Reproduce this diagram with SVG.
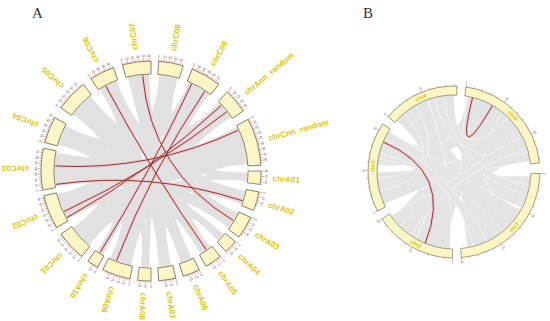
<svg xmlns="http://www.w3.org/2000/svg" width="550" height="321" viewBox="0 0 550 321">
<style>
.box{fill:#fcf5c6;stroke:#5f5a3c;stroke-width:.7}
.tk{stroke:#c4545e;stroke-width:.5}
.tl{font-family:"Liberation Sans",Arial,sans-serif;font-size:3.2px;fill:#505050;text-anchor:middle}
.lab{font-family:"Liberation Sans",Arial,sans-serif;font-size:8px;font-weight:bold;fill:#e0c400}
.rib{fill:#e1e1e1}
.halo{fill:none;stroke:#f9c0cf;stroke-width:3;opacity:.6}
.lnk{fill:none;stroke:#8e2a1e;stroke-width:.95}
.bbox{fill:#fcf5c6;stroke:#6a6648;stroke-width:.6}
.btk{stroke:#6a6648;stroke-width:.4}
.btl{font-family:"Liberation Sans",Arial,sans-serif;font-size:3px;fill:#555;text-anchor:middle}
.blab{font-family:"Liberation Sans",Arial,sans-serif;font-size:5.5px;font-weight:bold;fill:#e0c400;text-anchor:middle}
.brib{fill:#e4e4e4;stroke:#fff;stroke-width:.5}
.pl{font-family:"Liberation Serif","Times New Roman",serif;font-size:15px;fill:#333}
</style>
<defs>
<path id="w6" d="M151,61A110,110 0 0 1 162.50,61.60L161.14,74.53A97,97 0 0 0 151,74Z"/>
<path id="w7" d="M151,61A110,110 0 0 1 164.41,61.82L162.82,74.73A97,97 0 0 0 151,74Z"/>
<path id="w9" d="M151,61A110,110 0 0 1 168.20,62.35L166.17,75.19A97,97 0 0 0 151,74Z"/>
<path id="w10" d="M151,61A110,110 0 0 1 170.10,62.67L167.84,75.47A97,97 0 0 0 151,74Z"/>
<path id="w12" d="M151,61A110,110 0 0 1 173.87,63.41L171.17,76.12A97,97 0 0 0 151,74Z"/>
<path id="w13" d="M151,61A110,110 0 0 1 175.75,63.82L172.83,76.48A97,97 0 0 0 151,74Z"/>
<path id="w14" d="M151,61A110,110 0 0 1 177.61,64.27L174.46,76.88A97,97 0 0 0 151,74Z"/>
<path id="w15" d="M151,61A110,110 0 0 1 179.47,64.75L176.10,77.31A97,97 0 0 0 151,74Z"/>
<path id="w16" d="M151,61A110,110 0 0 1 181.32,65.26L177.73,77.75A97,97 0 0 0 151,74Z"/>
<path id="w17" d="M151,61A110,110 0 0 1 183.16,65.81L179.36,78.24A97,97 0 0 0 151,74Z"/>
<path id="w18" d="M151,61A110,110 0 0 1 184.99,66.38L180.97,78.74A97,97 0 0 0 151,74Z"/>
<path id="w22" d="M151,61A110,110 0 0 1 192.21,69.01L187.34,81.06A97,97 0 0 0 151,74Z"/>
<path id="w25" d="M151,61A110,110 0 0 1 197.49,71.31L191.99,83.09A97,97 0 0 0 151,74Z"/>
<line id="tM" x1="151" y1="61" x2="151" y2="57.5"/>
<g id="tp"><use href="#tM"/><line x1="151" y1="61" x2="151" y2="59" transform="rotate(1.4 151 171)"/></g>
<path id="bw84" d="M454,86A86,86 0 0 1 539.53,163.01L530.58,163.95A77,77 0 0 0 454,95Z"/>
<path id="bw56" d="M454,86A86,86 0 0 1 525.29,123.91L517.83,128.94A77,77 0 0 0 454,95Z"/>
<path id="bw61" d="M454,86A86,86 0 0 1 529.22,130.31L521.34,134.67A77,77 0 0 0 454,95Z"/>
<path id="bw52" d="M454,86A86,86 0 0 1 521.77,119.05L514.68,124.59A77,77 0 0 0 454,95Z"/>
<path id="bw76" d="M454,86A86,86 0 0 1 537.45,151.20L528.71,153.37A77,77 0 0 0 454,95Z"/>
<line id="bM" x1="454" y1="86" x2="454" y2="83"/>
<line id="bm" x1="454" y1="86" x2="454" y2="84.3"/>
<g id="bd"><use href="#bM"/><use href="#bm" transform="rotate(5.6 454 172)"/><use href="#bm" transform="rotate(11.2 454 172)"/><use href="#bm" transform="rotate(16.8 454 172)"/><use href="#bm" transform="rotate(22.4 454 172)"/></g>
</defs>
<rect width="550" height="321" fill="#fff"/>
<text class="pl" x="32" y="18">A</text>
<text class="pl" x="363" y="18">B</text>

<g id="connectors-A">
<g id="ribbons-A" class="rib">
<path d="M246.98,172.68A96,96 0 0 1 246.47,181.03Q151,171 89.29,244.54A96,96 0 0 1 79.66,235.23Q151,171 246.98,172.68Z"/>
<path d="M244.90,190.96A96,96 0 0 1 241.21,203.83Q151,171 67.86,219.00A96,96 0 0 1 61.37,205.41Q151,171 244.90,190.96Z"/>
<path d="M237.28,213.09A96,96 0 0 1 228.66,227.43Q151,171 55.93,184.36A96,96 0 0 1 55.23,164.30Q151,171 237.28,213.09Z"/>
<path d="M223.45,233.99A96,96 0 0 1 217.69,240.05Q151,171 58.72,144.54A96,96 0 0 1 61.99,135.04Q151,171 223.45,233.99Z"/>
<path d="M210.11,246.65A96,96 0 0 1 200.44,253.29Q151,171 62.63,133.49A96,96 0 0 1 66.24,125.93Q151,171 210.11,246.65Z"/>
<path d="M191.57,258.00A96,96 0 0 1 180.66,262.31Q151,171 73.34,114.57A96,96 0 0 1 81.95,104.31Q151,171 191.57,258.00Z"/>
<path d="M170.96,264.90A96,96 0 0 1 159.37,266.64Q151,171 100.13,89.59A96,96 0 0 1 115.04,81.99Q151,171 170.96,264.90Z"/>
<path d="M159.37,75.36A96,96 0 0 1 170.96,77.10Q151,171 149.32,266.98A96,96 0 0 1 140.97,266.47Q151,171 159.37,75.36Z"/>
<path d="M188.51,82.63A96,96 0 0 1 204.68,91.42Q151,171 131.04,264.90A96,96 0 0 1 110.43,258.00Q151,171 188.51,82.63Z"/>
<path d="M206.07,92.36A96,96 0 0 1 208.77,94.33Q151,171 103.00,254.14A96,96 0 0 1 97.32,250.58Q151,171 206.07,92.36Z"/>
<path d="M218.88,103.12A96,96 0 0 1 230.58,117.32Q151,171 127.78,77.85A96,96 0 0 1 147.65,75.06Q151,171 218.88,103.12Z"/>
<path d="M236.54,127.42A96,96 0 0 1 242.80,142.93Q151,171 60.79,203.83A96,96 0 0 1 57.85,194.22Q151,171 236.54,127.42Z"/>
<path d="M243.28,144.54A96,96 0 0 1 246.77,164.30Q151,171 55.36,162.63A96,96 0 0 1 56.77,152.68Q151,171 243.28,144.54Z"/>
<path d="M78.55,233.99A96,96 0 0 1 73.34,227.43Q151,171 83.12,103.12A96,96 0 0 1 90.59,96.40Q151,171 78.55,233.99Z"/>
<path d="M191.57,258.00A96,96 0 0 1 180.66,262.31Q151,171 127.78,77.85A96,96 0 0 1 149.32,75.02Q151,171 191.57,258.00Z"/>
<path d="M159.37,75.36A96,96 0 0 1 177.46,78.72Q151,171 67.86,219.00A96,96 0 0 1 57.85,194.22Q151,171 159.37,75.36Z"/>
<path d="M188.51,82.63A96,96 0 0 1 208.77,94.33Q151,171 58.72,144.54A96,96 0 0 1 66.24,125.93Q151,171 188.51,82.63Z"/>
<path d="M218.88,103.12A96,96 0 0 1 230.58,117.32Q151,171 131.04,264.90A96,96 0 0 1 110.43,258.00Q151,171 218.88,103.12Z"/>
<path d="M236.54,127.42A96,96 0 0 1 246.77,164.30Q151,171 89.29,244.54A96,96 0 0 1 73.34,227.43Q151,171 236.54,127.42Z"/>
<path d="M246.98,172.68A96,96 0 0 1 246.47,181.03Q151,171 73.34,114.57A96,96 0 0 1 90.59,96.40Q151,171 246.98,172.68Z"/>
<path d="M244.90,190.96A96,96 0 0 1 241.21,203.83Q151,171 100.13,89.59A96,96 0 0 1 116.59,81.37Q151,171 244.90,190.96Z"/>
<path d="M159.37,75.36A96,96 0 0 1 177.46,78.72Q151,171 237.28,213.09A96,96 0 0 1 228.66,227.43Q151,171 159.37,75.36Z"/>
<path d="M223.45,233.99A96,96 0 0 1 217.69,240.05Q151,171 56.18,186.01A96,96 0 0 1 56.77,152.68Q151,171 223.45,233.99Z"/>
<path d="M236.54,127.42A96,96 0 0 1 246.77,164.30Q151,171 210.11,246.65A96,96 0 0 1 200.44,253.29Q151,171 236.54,127.42Z"/>
<path d="M188.51,82.63A96,96 0 0 1 208.77,94.33Q151,171 170.96,264.90A96,96 0 0 1 159.37,266.64Q151,171 188.51,82.63Z"/>
<path d="M149.32,266.98A96,96 0 0 1 140.97,266.47Q151,171 58.72,144.54A96,96 0 0 1 66.24,125.93Q151,171 149.32,266.98Z"/>
<path d="M103.00,254.14A96,96 0 0 1 97.32,250.58Q151,171 100.13,89.59A96,96 0 0 1 116.59,81.37Q151,171 103.00,254.14Z"/>
<path d="M218.88,103.12A96,96 0 0 1 230.58,117.32Q151,171 89.29,244.54A96,96 0 0 1 73.34,227.43Q151,171 218.88,103.12Z"/>
<path d="M131.04,264.90A96,96 0 0 1 110.43,258.00Q151,171 73.34,114.57A96,96 0 0 1 90.59,96.40Q151,171 131.04,264.90Z"/>
</g>
<g id="halos-A" class="halo">
<path d="M105.93,86.24Q151,171 206.07,249.64"/>
<path d="M142.63,75.36Q151,171 233.29,220.44"/>
<path d="M191.57,84.00Q151,171 100.13,252.41"/>
<path d="M204.68,91.42Q151,171 116.59,260.63"/>
<path d="M221.21,105.53Q151,171 67.04,217.54"/>
<path d="M226.65,111.89Q151,171 64.00,211.57"/>
<path d="M238.00,130.43Q151,171 55.13,165.98"/>
<path d="M55.93,184.36Q151,171 242.31,200.66"/>
</g>
<g id="links-A" class="lnk">
<path d="M105.93,86.24Q151,171 206.07,249.64"/>
<path d="M142.63,75.36Q151,171 233.29,220.44"/>
<path d="M191.57,84.00Q151,171 100.13,252.41"/>
<path d="M204.68,91.42Q151,171 116.59,260.63"/>
<path d="M221.21,105.53Q151,171 67.04,217.54"/>
<path d="M226.65,111.89Q151,171 64.00,211.57"/>
<path d="M238.00,130.43Q151,171 55.13,165.98"/>
<path d="M55.93,184.36Q151,171 242.31,200.66"/>
</g>
</g>

<g id="chrC07">
<use href="#w15" class="box" transform="rotate(345 151 171)"/>
<g class="tk"><use href="#tp" transform="rotate(345 151 171)"/><use href="#tp" transform="rotate(347.8 151 171)"/><use href="#tp" transform="rotate(350.6 151 171)"/><use href="#tp" transform="rotate(353.4 151 171)"/><use href="#tp" transform="rotate(356.2 151 171)"/><use href="#tM" transform="rotate(359 151 171)"/></g>
<text class="tl" x="151" y="57" transform="rotate(345 151 171)">0</text><text class="tl" x="151" y="57" transform="rotate(347.8 151 171)">10</text><text class="tl" x="151" y="57" transform="rotate(350.6 151 171)">20</text><text class="tl" x="151" y="57" transform="rotate(353.4 151 171)">30</text><text class="tl" x="151" y="57" transform="rotate(356.2 151 171)">40</text><text class="tl" x="151" y="57" transform="rotate(359 151 171)">50</text>
<text class="lab" x="273" y="171" dy=".35em" transform="rotate(262.5 151 171)">chrC07</text>
</g>
<g id="chrC08">
<use href="#w13" class="box" transform="rotate(4 151 171)"/>
<g class="tk"><use href="#tp" transform="rotate(4 151 171)"/><use href="#tp" transform="rotate(6.8 151 171)"/><use href="#tp" transform="rotate(9.6 151 171)"/><use href="#tp" transform="rotate(12.4 151 171)"/><use href="#tp" transform="rotate(15.2 151 171)"/></g>
<text class="tl" x="151" y="57" transform="rotate(4 151 171)">0</text><text class="tl" x="151" y="57" transform="rotate(6.8 151 171)">10</text><text class="tl" x="151" y="57" transform="rotate(9.6 151 171)">20</text><text class="tl" x="151" y="57" transform="rotate(12.4 151 171)">30</text><text class="tl" x="151" y="57" transform="rotate(15.2 151 171)">40</text>
<text class="lab" x="273" y="171" dy=".35em" transform="rotate(-79.5 151 171)">chrC08</text>
</g>
<g id="chrC09">
<use href="#w16" class="box" transform="rotate(22 151 171)"/>
<g class="tk"><use href="#tp" transform="rotate(22 151 171)"/><use href="#tp" transform="rotate(24.8 151 171)"/><use href="#tp" transform="rotate(27.6 151 171)"/><use href="#tp" transform="rotate(30.4 151 171)"/><use href="#tp" transform="rotate(33.2 151 171)"/><use href="#tp" transform="rotate(36 151 171)"/></g>
<text class="tl" x="151" y="57" transform="rotate(22 151 171)">0</text><text class="tl" x="151" y="57" transform="rotate(24.8 151 171)">10</text><text class="tl" x="151" y="57" transform="rotate(27.6 151 171)">20</text><text class="tl" x="151" y="57" transform="rotate(30.4 151 171)">30</text><text class="tl" x="151" y="57" transform="rotate(33.2 151 171)">40</text><text class="tl" x="151" y="57" transform="rotate(36 151 171)">50</text>
<text class="lab" x="273" y="171" dy=".35em" transform="rotate(-60 151 171)">chrC09</text>
</g>
<g id="chrAnn_random">
<use href="#w13" class="box" transform="rotate(44 151 171)"/>
<g class="tk"><use href="#tp" transform="rotate(44 151 171)"/><use href="#tp" transform="rotate(46.8 151 171)"/><use href="#tp" transform="rotate(49.6 151 171)"/><use href="#tp" transform="rotate(52.4 151 171)"/><use href="#tp" transform="rotate(55.2 151 171)"/></g>
<text class="tl" x="151" y="57" transform="rotate(44 151 171)">0</text><text class="tl" x="151" y="57" transform="rotate(46.8 151 171)">10</text><text class="tl" x="151" y="57" transform="rotate(49.6 151 171)">20</text><text class="tl" x="151" y="57" transform="rotate(52.4 151 171)">30</text><text class="tl" x="151" y="57" transform="rotate(55.2 151 171)">40</text>
<text class="lab" x="273" y="171" dy=".35em" transform="rotate(-39.5 151 171)">chrAnn_random</text>
</g>
<g id="chrCnn_random">
<use href="#w25" class="box" transform="rotate(62 151 171)"/>
<g class="tk"><use href="#tp" transform="rotate(62 151 171)"/><use href="#tp" transform="rotate(64.8 151 171)"/><use href="#tp" transform="rotate(67.6 151 171)"/><use href="#tp" transform="rotate(70.4 151 171)"/><use href="#tp" transform="rotate(73.2 151 171)"/><use href="#tp" transform="rotate(76 151 171)"/><use href="#tp" transform="rotate(78.8 151 171)"/><use href="#tp" transform="rotate(81.6 151 171)"/><use href="#tp" transform="rotate(84.4 151 171)"/></g>
<text class="tl" x="151" y="57" transform="rotate(62 151 171)">0</text><text class="tl" x="151" y="57" transform="rotate(64.8 151 171)">10</text><text class="tl" x="151" y="57" transform="rotate(67.6 151 171)">20</text><text class="tl" x="151" y="57" transform="rotate(70.4 151 171)">30</text><text class="tl" x="151" y="57" transform="rotate(73.2 151 171)">40</text><text class="tl" x="151" y="57" transform="rotate(76 151 171)">50</text><text class="tl" x="151" y="57" transform="rotate(78.8 151 171)">60</text><text class="tl" x="151" y="57" transform="rotate(81.6 151 171)">70</text><text class="tl" x="151" y="57" transform="rotate(84.4 151 171)">80</text>
<text class="lab" x="273" y="171" dy=".35em" transform="rotate(-15.5 151 171)">chrCnn_random</text>
</g>
<g id="chrA01">
<use href="#w7" class="box" transform="rotate(90 151 171)"/>
<g class="tk"><use href="#tp" transform="rotate(90 151 171)"/><use href="#tp" transform="rotate(92.8 151 171)"/><use href="#tp" transform="rotate(95.6 151 171)"/></g>
<text class="tl" x="151" y="54.4" transform="rotate(90 151 171) rotate(180 151 54.4)">0</text><text class="tl" x="151" y="54.4" transform="rotate(92.8 151 171) rotate(180 151 54.4)">10</text><text class="tl" x="151" y="54.4" transform="rotate(95.6 151 171) rotate(180 151 54.4)">20</text>
<text class="lab" x="273" y="171" dy=".35em" transform="rotate(3.5 151 171)">chrA01</text>
</g>
<g id="chrA02">
<use href="#w10" class="box" transform="rotate(101 151 171)"/>
<g class="tk"><use href="#tp" transform="rotate(101 151 171)"/><use href="#tp" transform="rotate(103.8 151 171)"/><use href="#tp" transform="rotate(106.6 151 171)"/></g>
<text class="tl" x="151" y="54.4" transform="rotate(101 151 171) rotate(180 151 54.4)">0</text><text class="tl" x="151" y="54.4" transform="rotate(103.8 151 171) rotate(180 151 54.4)">10</text><text class="tl" x="151" y="54.4" transform="rotate(106.6 151 171) rotate(180 151 54.4)">20</text>
<text class="lab" x="273" y="171" dy=".35em" transform="rotate(16 151 171)">chrA02</text>
</g>
<g id="chrA03">
<use href="#w12" class="box" transform="rotate(115 151 171)"/>
<g class="tk"><use href="#tp" transform="rotate(115 151 171)"/><use href="#tp" transform="rotate(117.8 151 171)"/><use href="#tp" transform="rotate(120.6 151 171)"/><use href="#tp" transform="rotate(123.4 151 171)"/></g>
<text class="tl" x="151" y="54.4" transform="rotate(115 151 171) rotate(180 151 54.4)">0</text><text class="tl" x="151" y="54.4" transform="rotate(117.8 151 171) rotate(180 151 54.4)">10</text><text class="tl" x="151" y="54.4" transform="rotate(120.6 151 171) rotate(180 151 54.4)">20</text><text class="tl" x="151" y="54.4" transform="rotate(123.4 151 171) rotate(180 151 54.4)">30</text>
<text class="lab" x="273" y="171" dy=".35em" transform="rotate(31 151 171)">chrA03</text>
</g>
<g id="chrA04">
<use href="#w7" class="box" transform="rotate(130 151 171)"/>
<g class="tk"><use href="#tp" transform="rotate(130 151 171)"/><use href="#tp" transform="rotate(132.8 151 171)"/><use href="#tp" transform="rotate(135.6 151 171)"/></g>
<text class="tl" x="151" y="54.4" transform="rotate(130 151 171) rotate(180 151 54.4)">0</text><text class="tl" x="151" y="54.4" transform="rotate(132.8 151 171) rotate(180 151 54.4)">10</text><text class="tl" x="151" y="54.4" transform="rotate(135.6 151 171) rotate(180 151 54.4)">20</text>
<text class="lab" x="273" y="171" dy=".35em" transform="rotate(43.5 151 171)">chrA04</text>
</g>
<g id="chrA05">
<use href="#w9" class="box" transform="rotate(141 151 171)"/>
<g class="tk"><use href="#tp" transform="rotate(141 151 171)"/><use href="#tp" transform="rotate(143.8 151 171)"/><use href="#tp" transform="rotate(146.6 151 171)"/></g>
<text class="tl" x="151" y="54.4" transform="rotate(141 151 171) rotate(180 151 54.4)">0</text><text class="tl" x="151" y="54.4" transform="rotate(143.8 151 171) rotate(180 151 54.4)">10</text><text class="tl" x="151" y="54.4" transform="rotate(146.6 151 171) rotate(180 151 54.4)">20</text>
<text class="lab" x="273" y="171" dy=".35em" transform="rotate(55.5 151 171)">chrA05</text>
</g>
<g id="chrA06">
<use href="#w9" class="box" transform="rotate(154 151 171)"/>
<g class="tk"><use href="#tp" transform="rotate(154 151 171)"/><use href="#tp" transform="rotate(156.8 151 171)"/><use href="#tp" transform="rotate(159.6 151 171)"/></g>
<text class="tl" x="151" y="54.4" transform="rotate(154 151 171) rotate(180 151 54.4)">0</text><text class="tl" x="151" y="54.4" transform="rotate(156.8 151 171) rotate(180 151 54.4)">10</text><text class="tl" x="151" y="54.4" transform="rotate(159.6 151 171) rotate(180 151 54.4)">20</text>
<text class="lab" x="273" y="171" dy=".35em" transform="rotate(68.5 151 171)">chrA06</text>
</g>
<g id="chrA07">
<use href="#w9" class="box" transform="rotate(167 151 171)"/>
<g class="tk"><use href="#tp" transform="rotate(167 151 171)"/><use href="#tp" transform="rotate(169.8 151 171)"/><use href="#tp" transform="rotate(172.6 151 171)"/></g>
<text class="tl" x="151" y="54.4" transform="rotate(167 151 171) rotate(180 151 54.4)">0</text><text class="tl" x="151" y="54.4" transform="rotate(169.8 151 171) rotate(180 151 54.4)">10</text><text class="tl" x="151" y="54.4" transform="rotate(172.6 151 171) rotate(180 151 54.4)">20</text>
<text class="lab" x="273" y="171" dy=".35em" transform="rotate(81.5 151 171)">chrA07</text>
</g>
<g id="chrA08">
<use href="#w7" class="box" transform="rotate(180 151 171)"/>
<g class="tk"><use href="#tp" transform="rotate(180 151 171)"/><use href="#tp" transform="rotate(182.8 151 171)"/><use href="#tp" transform="rotate(185.6 151 171)"/></g>
<text class="tl" x="151" y="54.4" transform="rotate(180 151 171) rotate(180 151 54.4)">0</text><text class="tl" x="151" y="54.4" transform="rotate(182.8 151 171) rotate(180 151 54.4)">10</text><text class="tl" x="151" y="54.4" transform="rotate(185.6 151 171) rotate(180 151 54.4)">20</text>
<text class="lab" x="273" y="171" dy=".35em" transform="rotate(93.5 151 171)">chrA08</text>
</g>
<g id="chrA09">
<use href="#w15" class="box" transform="rotate(191 151 171)"/>
<g class="tk"><use href="#tp" transform="rotate(191 151 171)"/><use href="#tp" transform="rotate(193.8 151 171)"/><use href="#tp" transform="rotate(196.6 151 171)"/><use href="#tp" transform="rotate(199.4 151 171)"/><use href="#tp" transform="rotate(202.2 151 171)"/></g>
<text class="tl" x="151" y="54.4" transform="rotate(191 151 171) rotate(180 151 54.4)">0</text><text class="tl" x="151" y="54.4" transform="rotate(193.8 151 171) rotate(180 151 54.4)">10</text><text class="tl" x="151" y="54.4" transform="rotate(196.6 151 171) rotate(180 151 54.4)">20</text><text class="tl" x="151" y="54.4" transform="rotate(199.4 151 171) rotate(180 151 54.4)">30</text><text class="tl" x="151" y="54.4" transform="rotate(202.2 151 171) rotate(180 151 54.4)">40</text>
<text class="lab" x="273" y="171" dy=".35em" transform="rotate(108.5 151 171)">chrA09</text>
</g>
<g id="chrA10">
<use href="#w6" class="box" transform="rotate(209 151 171)"/>
<g class="tk"><use href="#tp" transform="rotate(209 151 171)"/><use href="#tp" transform="rotate(211.8 151 171)"/></g>
<text class="tl" x="151" y="54.4" transform="rotate(209 151 171) rotate(180 151 54.4)">0</text><text class="tl" x="151" y="54.4" transform="rotate(211.8 151 171) rotate(180 151 54.4)">10</text>
<text class="lab" x="273" y="171" dy=".35em" transform="rotate(122 151 171)">chrA10</text>
</g>
<g id="chrC01">
<use href="#w16" class="box" transform="rotate(219 151 171)"/>
<g class="tk"><use href="#tp" transform="rotate(219 151 171)"/><use href="#tp" transform="rotate(221.8 151 171)"/><use href="#tp" transform="rotate(224.6 151 171)"/><use href="#tp" transform="rotate(227.4 151 171)"/><use href="#tp" transform="rotate(230.2 151 171)"/><use href="#tp" transform="rotate(233 151 171)"/></g>
<text class="tl" x="151" y="54.4" transform="rotate(219 151 171) rotate(180 151 54.4)">0</text><text class="tl" x="151" y="54.4" transform="rotate(221.8 151 171) rotate(180 151 54.4)">10</text><text class="tl" x="151" y="54.4" transform="rotate(224.6 151 171) rotate(180 151 54.4)">20</text><text class="tl" x="151" y="54.4" transform="rotate(227.4 151 171) rotate(180 151 54.4)">30</text><text class="tl" x="151" y="54.4" transform="rotate(230.2 151 171) rotate(180 151 54.4)">40</text><text class="tl" x="151" y="54.4" transform="rotate(233 151 171) rotate(180 151 54.4)">50</text>
<text class="lab" x="273" y="171" dy=".35em" transform="rotate(137 151 171)">chrC01</text>
</g>
<g id="chrC02">
<use href="#w18" class="box" transform="rotate(239 151 171)"/>
<g class="tk"><use href="#tp" transform="rotate(239 151 171)"/><use href="#tp" transform="rotate(241.8 151 171)"/><use href="#tp" transform="rotate(244.6 151 171)"/><use href="#tp" transform="rotate(247.4 151 171)"/><use href="#tp" transform="rotate(250.2 151 171)"/><use href="#tp" transform="rotate(253 151 171)"/><use href="#tM" transform="rotate(255.8 151 171)"/></g>
<text class="tl" x="151" y="54.4" transform="rotate(239 151 171) rotate(180 151 54.4)">0</text><text class="tl" x="151" y="54.4" transform="rotate(241.8 151 171) rotate(180 151 54.4)">10</text><text class="tl" x="151" y="54.4" transform="rotate(244.6 151 171) rotate(180 151 54.4)">20</text><text class="tl" x="151" y="54.4" transform="rotate(247.4 151 171) rotate(180 151 54.4)">30</text><text class="tl" x="151" y="54.4" transform="rotate(250.2 151 171) rotate(180 151 54.4)">40</text><text class="tl" x="151" y="54.4" transform="rotate(253 151 171) rotate(180 151 54.4)">50</text><text class="tl" x="151" y="54.4" transform="rotate(255.8 151 171) rotate(180 151 54.4)">60</text>
<text class="lab" x="273" y="171" dy=".35em" transform="rotate(158 151 171)">chrC02</text>
</g>
<g id="chrC03">
<use href="#w22" class="box" transform="rotate(260 151 171)"/>
<g class="tk"><use href="#tp" transform="rotate(260 151 171)"/><use href="#tp" transform="rotate(262.8 151 171)"/><use href="#tp" transform="rotate(265.6 151 171)"/><use href="#tp" transform="rotate(268.4 151 171)"/><use href="#tp" transform="rotate(271.2 151 171)"/><use href="#tp" transform="rotate(274 151 171)"/><use href="#tp" transform="rotate(276.8 151 171)"/><use href="#tp" transform="rotate(279.6 151 171)"/></g>
<text class="tl" x="151" y="54.4" transform="rotate(260 151 171) rotate(180 151 54.4)">0</text><text class="tl" x="151" y="54.4" transform="rotate(262.8 151 171) rotate(180 151 54.4)">10</text><text class="tl" x="151" y="54.4" transform="rotate(265.6 151 171) rotate(180 151 54.4)">20</text><text class="tl" x="151" y="54.4" transform="rotate(268.4 151 171) rotate(180 151 54.4)">30</text><text class="tl" x="151" y="57" transform="rotate(271.2 151 171)">40</text><text class="tl" x="151" y="57" transform="rotate(274 151 171)">50</text><text class="tl" x="151" y="57" transform="rotate(276.8 151 171)">60</text><text class="tl" x="151" y="57" transform="rotate(279.6 151 171)">70</text>
<text class="lab" x="273" y="171" dy=".35em" transform="rotate(181 151 171)">chrC03</text>
</g>
<g id="chrC04">
<use href="#w14" class="box" transform="rotate(285 151 171)"/>
<g class="tk"><use href="#tp" transform="rotate(285 151 171)"/><use href="#tp" transform="rotate(287.8 151 171)"/><use href="#tp" transform="rotate(290.6 151 171)"/><use href="#tp" transform="rotate(293.4 151 171)"/><use href="#tp" transform="rotate(296.2 151 171)"/><use href="#tM" transform="rotate(299 151 171)"/></g>
<text class="tl" x="151" y="57" transform="rotate(285 151 171)">0</text><text class="tl" x="151" y="57" transform="rotate(287.8 151 171)">10</text><text class="tl" x="151" y="57" transform="rotate(290.6 151 171)">20</text><text class="tl" x="151" y="57" transform="rotate(293.4 151 171)">30</text><text class="tl" x="151" y="57" transform="rotate(296.2 151 171)">40</text><text class="tl" x="151" y="57" transform="rotate(299 151 171)">50</text>
<text class="lab" x="273" y="171" dy=".35em" transform="rotate(202 151 171)">chrC04</text>
</g>
<g id="chrC05">
<use href="#w17" class="box" transform="rotate(305 151 171)"/>
<g class="tk"><use href="#tp" transform="rotate(305 151 171)"/><use href="#tp" transform="rotate(307.8 151 171)"/><use href="#tp" transform="rotate(310.6 151 171)"/><use href="#tp" transform="rotate(313.4 151 171)"/><use href="#tp" transform="rotate(316.2 151 171)"/><use href="#tp" transform="rotate(319 151 171)"/></g>
<text class="tl" x="151" y="57" transform="rotate(305 151 171)">0</text><text class="tl" x="151" y="57" transform="rotate(307.8 151 171)">10</text><text class="tl" x="151" y="57" transform="rotate(310.6 151 171)">20</text><text class="tl" x="151" y="57" transform="rotate(313.4 151 171)">30</text><text class="tl" x="151" y="57" transform="rotate(316.2 151 171)">40</text><text class="tl" x="151" y="57" transform="rotate(319 151 171)">50</text>
<text class="lab" x="273" y="171" dy=".35em" transform="rotate(223.5 151 171)">chrC05</text>
</g>
<g id="chrC06">
<use href="#w13" class="box" transform="rotate(327 151 171)"/>
<g class="tk"><use href="#tp" transform="rotate(327 151 171)"/><use href="#tp" transform="rotate(329.8 151 171)"/><use href="#tp" transform="rotate(332.6 151 171)"/><use href="#tp" transform="rotate(335.4 151 171)"/><use href="#tp" transform="rotate(338.2 151 171)"/></g>
<text class="tl" x="151" y="57" transform="rotate(327 151 171)">0</text><text class="tl" x="151" y="57" transform="rotate(329.8 151 171)">10</text><text class="tl" x="151" y="57" transform="rotate(332.6 151 171)">20</text><text class="tl" x="151" y="57" transform="rotate(335.4 151 171)">30</text><text class="tl" x="151" y="57" transform="rotate(338.2 151 171)">40</text>
<text class="lab" x="273" y="171" dy=".35em" transform="rotate(243.5 151 171)">chrC06</text>
</g>

<g id="connectors-B">
<g id="ribbons-B" class="brib">
<path d="M530.71,178.71A77,77 0 0 1 523.79,204.54Q454,172 381.64,198.34A77,77 0 0 1 377,172Q454,172 530.71,178.71Z"/>
<path d="M520.68,210.5A77,77 0 0 1 498.17,235.07Q454,172 399.55,117.55A77,77 0 0 1 421.46,102.21Q454,172 520.68,210.5Z"/>
<path d="M517.07,127.83A77,77 0 0 1 529.83,158.63Q454,172 492.5,238.68A77,77 0 0 1 467.37,247.83Q454,172 517.07,127.83Z"/>
<path d="M498.17,108.93A77,77 0 0 1 512.99,122.51Q454,172 447.29,248.71A77,77 0 0 1 421.46,241.79Q454,172 498.17,108.93Z"/>
<path d="M415.5,238.68A77,77 0 0 1 390.93,216.17Q454,172 427.66,99.64A77,77 0 0 1 451.31,95.05Q454,172 415.5,238.68Z"/>
<path d="M467.37,96.17A77,77 0 0 1 492.5,105.32Q454,172 377.29,165.29A77,77 0 0 1 387.32,133.5Q454,172 467.37,96.17Z"/>
<path d="M530.89,176.03A77,77 0 0 1 521.99,208.15Q454,172 409.83,235.07A77,77 0 0 1 390.93,216.17Q454,172 530.89,176.03Z"/>
<path d="M520.68,133.5A77,77 0 0 1 530.25,161.28Q454,172 384.21,204.54A77,77 0 0 1 377,172Q454,172 520.68,133.5Z"/>
<path d="M449.97,248.89A77,77 0 0 1 415.5,238.68Q454,172 396.78,120.48A77,77 0 0 1 427.66,99.64Q454,172 449.97,248.89Z"/>
<path d="M467.37,96.17A77,77 0 0 1 503.49,113.01Q454,172 517.07,216.17A77,77 0 0 1 467.37,247.83Q454,172 467.37,96.17Z"/>
<path d="M520.68,210.5A77,77 0 0 1 503.49,230.99Q454,172 378.17,158.63A77,77 0 0 1 388.70,131.2Q454,172 520.68,210.5Z"/>
<path d="M508.45,117.55A77,77 0 0 1 528.38,152.07Q454,172 434.07,97.62A77,77 0 0 1 454,95Q454,172 508.45,117.55Z"/>
<path d="M529.83,185.37A77,77 0 0 1 527.23,195.79Q454,172 434.07,97.62A77,77 0 0 1 443.28,95.75Q454,172 529.83,185.37Z"/>
<path d="M521.99,135.85A77,77 0 0 1 527.23,148.21Q454,172 409.83,235.07A77,77 0 0 1 399.55,226.45Q454,172 521.99,135.85Z"/>
<path d="M379.62,191.93A77,77 0 0 1 377.29,178.71Q454,172 404.51,113.01A77,77 0 0 1 415.5,105.32Q454,172 379.62,191.93Z"/>
<path d="M486.54,241.79A77,77 0 0 1 473.93,246.38Q454,172 379.62,152.07A77,77 0 0 1 384.21,139.46Q454,172 486.54,241.79Z"/>
</g>
<g class="halo">
<path d="M472.63,97.29Q454,172 492.5,105.32"/>
<path d="M383.12,141.91Q454,172 425.16,243.39"/>
</g>
<g id="links-B" class="lnk">
<path d="M472.63,97.29Q454,172 492.5,105.32"/>
<path d="M383.12,141.91Q454,172 425.16,243.39"/>
</g>
</g>

<g id="chr1">
<use href="#bw84" class="bbox" transform="rotate(91 454 172)"/>
<g class="btk"><use href="#bd" transform="rotate(91 454 172)"/><use href="#bd" transform="rotate(119 454 172)"/><use href="#bd" transform="rotate(147 454 172)"/><use href="#bM" transform="rotate(175 454 172)"/></g>
<text class="btl" x="454" y="80.4" transform="rotate(91 454 172) rotate(180 454 80.4)">0</text><text class="btl" x="454" y="80.4" transform="rotate(119 454 172) rotate(180 454 80.4)">10</text><text class="btl" x="454" y="80.4" transform="rotate(147 454 172) rotate(180 454 80.4)">20</text><text class="btl" x="454" y="80.4" transform="rotate(175 454 172) rotate(180 454 80.4)">30</text>
<text class="blab" x="454" y="90.5" dy=".35em" transform="rotate(132.5 454 172) rotate(180 454 90.5)">chr1</text>
</g>
<g id="chr2">
<use href="#bw56" class="bbox" transform="rotate(181 454 172)"/>
<g class="btk"><use href="#bd" transform="rotate(181 454 172)"/><use href="#bd" transform="rotate(209 454 172)"/><use href="#bM" transform="rotate(237 454 172)"/></g>
<text class="btl" x="454" y="80.4" transform="rotate(181 454 172) rotate(180 454 80.4)">0</text><text class="btl" x="454" y="80.4" transform="rotate(209 454 172) rotate(180 454 80.4)">10</text><text class="btl" x="454" y="80.4" transform="rotate(237 454 172) rotate(180 454 80.4)">20</text>
<text class="blab" x="454" y="90.5" dy=".35em" transform="rotate(208 454 172) rotate(180 454 90.5)">chr2</text>
</g>
<g id="chr3">
<use href="#bw61" class="bbox" transform="rotate(243 454 172)"/>
<g class="btk"><use href="#bd" transform="rotate(243 454 172)"/><use href="#bd" transform="rotate(271 454 172)"/><use href="#bM" transform="rotate(299 454 172)"/></g>
<text class="btl" x="454" y="80.4" transform="rotate(243 454 172) rotate(180 454 80.4)">0</text><text class="btl" x="454" y="82.6" transform="rotate(271 454 172)">10</text><text class="btl" x="454" y="82.6" transform="rotate(299 454 172)">20</text>
<text class="blab" x="454" y="90.5" dy=".35em" transform="rotate(274 454 172)">chr3</text>
</g>
<g id="chr4">
<use href="#bw52" class="bbox" transform="rotate(310 454 172)"/>
<g class="btk"><use href="#bd" transform="rotate(310 454 172)"/><use href="#bd" transform="rotate(338 454 172)"/></g>
<text class="btl" x="454" y="82.6" transform="rotate(310 454 172)">0</text><text class="btl" x="454" y="82.6" transform="rotate(338 454 172)">10</text>
<text class="blab" x="454" y="90.5" dy=".35em" transform="rotate(336 454 172)">chr4</text>
</g>
<g id="chr5">
<use href="#bw76" class="bbox" transform="rotate(8 454 172)"/>
<g class="btk"><use href="#bd" transform="rotate(8 454 172)"/><use href="#bd" transform="rotate(36 454 172)"/><use href="#bM" transform="rotate(64 454 172)"/><use href="#bm" transform="rotate(69.6 454 172)"/><use href="#bm" transform="rotate(75.2 454 172)"/><use href="#bm" transform="rotate(80.8 454 172)"/></g>
<text class="btl" x="454" y="82.6" transform="rotate(8 454 172)">0</text><text class="btl" x="454" y="82.6" transform="rotate(36 454 172)">10</text><text class="btl" x="454" y="82.6" transform="rotate(64 454 172)">20</text>
<text class="blab" x="454" y="90.5" dy=".35em" transform="rotate(46 454 172)">chr5</text>
</g>
</svg>
